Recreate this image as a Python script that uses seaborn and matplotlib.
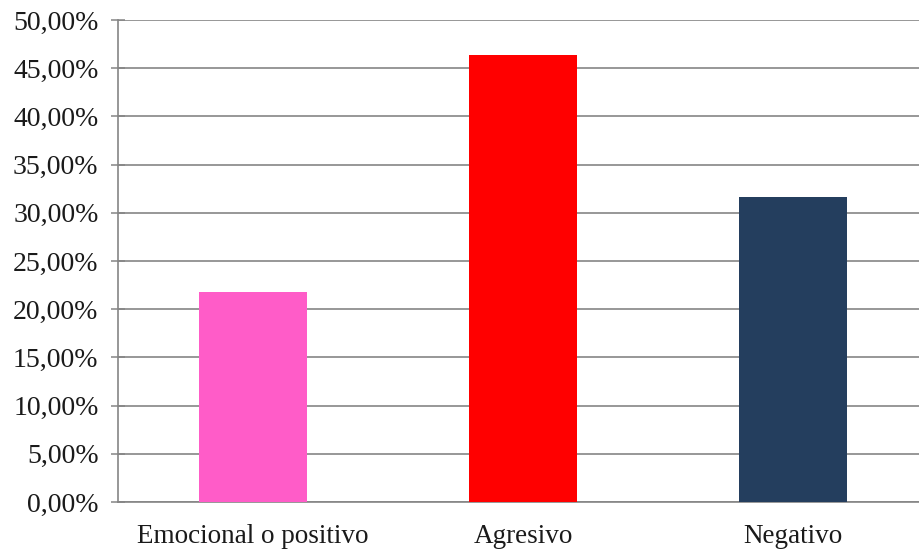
import matplotlib
matplotlib.use("Agg")
import matplotlib.pyplot as plt
import seaborn as sns
import pandas as pd
from matplotlib.ticker import FuncFormatter, MultipleLocator, FixedLocator

categories = ["Emocional o positivo", "Agresivo", "Negativo"]
values = [21.8, 46.4, 31.6]
colors = ["#FF5CC8", "#FF0000", "#243E5E"]

df = pd.DataFrame({"categoria": categories, "porcentaje": values})

sns.set_style("white")
plt.rcParams["font.family"] = ["Liberation Serif", "DejaVu Serif"]

fig = plt.figure(figsize=(9.19, 5.51), dpi=100)
ax = fig.add_axes([118 / 919, 49 / 551, 810 / 919, 482 / 551])

sns.barplot(data=df, x="categoria", y="porcentaje", hue="categoria",
            palette=colors, width=0.4, legend=False, ax=ax, zorder=3,
            saturation=1, linewidth=0)

ax.set_xlim(-0.5, 2.5)
ax.set_ylim(0, 50)
ax.yaxis.set_major_locator(MultipleLocator(5))
ax.yaxis.set_major_formatter(
    FuncFormatter(lambda v, _: f"{v:.2f}".replace(".", ",") + "%"))

ax.grid(axis="y", color="#858585", linewidth=1.2, zorder=0)
ax.set_axisbelow(True)

for side in ("top", "right"):
    ax.spines[side].set_visible(False)
for side in ("left", "bottom"):
    ax.spines[side].set_color("#858585")
    ax.spines[side].set_linewidth(1.2)

ax.xaxis.set_minor_locator(FixedLocator([0.5, 1.5, 2.5]))
ax.tick_params(axis="x", which="major", length=0, pad=16,
               labelsize=19.5, labelcolor="#1a1a1a")
ax.tick_params(axis="x", which="minor", length=7, width=1.1,
               color="#858585", direction="out")
ax.tick_params(axis="y", which="major", length=10, width=1.1,
               color="#858585", direction="inout", labelsize=20,
               labelcolor="#1a1a1a", pad=9, left=True)

ax.set_xlabel("")
ax.set_ylabel("")

fig.savefig("out.png", dpi=100)
